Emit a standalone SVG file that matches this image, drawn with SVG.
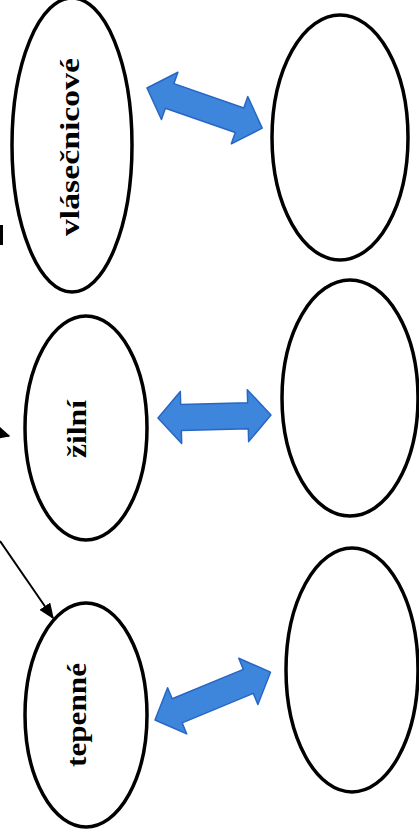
<svg xmlns="http://www.w3.org/2000/svg" width="419" height="840" viewBox="0 0 419 840">
<style>
.node ellipse{fill:#fff;stroke:#000;stroke-width:3.5}
.lbl{font-family:"Liberation Serif","Times New Roman",serif;font-weight:bold;font-size:28px;fill:#000;text-anchor:middle}
.blue{fill:#3d86dc;stroke:#2866c4;stroke-width:1.5;stroke-linejoin:round}
.blk{stroke:#000;stroke-width:2;fill:none}
</style>
<defs>
<marker id="ah" viewBox="0 0 10 10" refX="9" refY="5" markerWidth="16" markerHeight="13" markerUnits="userSpaceOnUse" orient="auto" preserveAspectRatio="none">
<path d="M0,0 L10,5 L0,10 Z" fill="#000"/>
</marker>
<marker id="ah2" viewBox="0 0 10 10" refX="9" refY="5" markerWidth="13" markerHeight="13" markerUnits="userSpaceOnUse" orient="auto">
<path d="M0,0 L10,5 L0,10 Z" fill="#000"/>
</marker>
</defs>
<rect width="419" height="840" fill="#fff"/>
<g id="n-vlasecnicove" class="node">
<ellipse cx="72" cy="145" rx="60" ry="147"/>
<text class="lbl" transform="translate(79,147) rotate(-90)" textLength="178" lengthAdjust="spacingAndGlyphs">vlásečnicové</text>
</g>
<g id="n-right1" class="node">
<ellipse cx="340" cy="137.5" rx="68" ry="122.5"/>
</g>
<g id="n-zilni" class="node">
<ellipse cx="86" cy="428" rx="61" ry="112"/>
<text class="lbl" transform="translate(86,429) rotate(-90)" textLength="58" lengthAdjust="spacingAndGlyphs">žilní</text>
</g>
<g id="n-right2" class="node">
<ellipse cx="350" cy="398" rx="68" ry="118"/>
</g>
<g id="n-tepenne" class="node">
<ellipse cx="86" cy="715" rx="61" ry="112"/>
<text class="lbl" transform="translate(86,715) rotate(-90)" textLength="104" lengthAdjust="spacingAndGlyphs">tepenné</text>
</g>
<g id="n-right3" class="node">
<ellipse cx="352" cy="670" rx="66" ry="122"/>
</g>
<g id="connectors">
<path class="blue" transform="translate(147,88) rotate(19.2)" d="M0,0 L24,-25 L24,-13 L98,-13 L98,-25 L122,0 L98,25 L98,13 L24,13 L24,25 Z"/>
<path class="blue" transform="translate(158,418) rotate(-1.5)" d="M0,0 L23,-26 L23,-13 L90,-13 L90,-26 L113,0 L90,26 L90,13 L23,13 L23,26 Z"/>
<path class="blue" transform="translate(155,720) rotate(-22.5)" d="M0,0 L24,-25 L24,-13 L101,-13 L101,-25 L125,0 L101,25 L101,13 L24,13 L24,25 Z"/>
<line class="blk" x1="0" y1="541" x2="53" y2="618" marker-end="url(#ah)"/>
<line class="blk" x1="-20" y1="428" x2="9" y2="436" marker-end="url(#ah2)"/>
<line class="blk" x1="1.5" y1="225" x2="1.5" y2="245" style="stroke-width:3"/>
</g>
</svg>
